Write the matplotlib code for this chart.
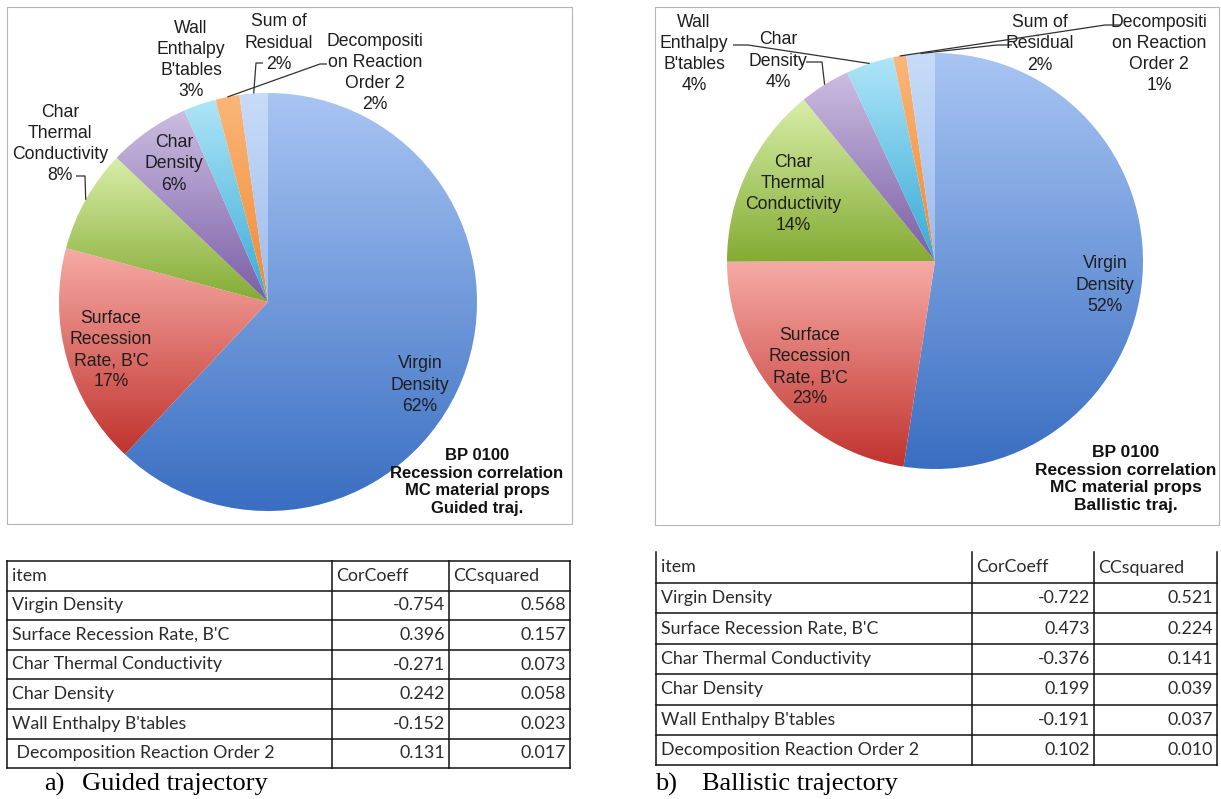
import numpy as np
import matplotlib
matplotlib.use("Agg")
import matplotlib.pyplot as plt
from matplotlib.colors import to_rgb

W, H = 1221, 799

# ---------------- data ----------------
pie_names = ["Virgin\nDensity", "Surface\nRecession\nRate, B'C", "Char\nThermal\nConductivity",
             "Char\nDensity", "Wall\nEnthalpy\nB'tables", "Decompositi\non Reaction\nOrder 2",
             "Sum of\nResidual"]
table_items_a = ["Virgin Density", "Surface Recession Rate, B'C", "Char Thermal Conductivity",
                 "Char Density", "Wall Enthalpy B'tables", " Decomposition Reaction Order 2"]
table_items_b = ["Virgin Density", "Surface Recession Rate, B'C", "Char Thermal Conductivity",
                 "Char Density", "Wall Enthalpy B'tables", "Decomposition Reaction Order 2"]
table_header = ["item", "CorCoeff", "CCsquared"]

guided_cc = [-0.754, 0.396, -0.271, 0.242, -0.152, 0.131]
guided_ccsq = [0.568, 0.157, 0.073, 0.058, 0.023, 0.017]
guided_residual = 0.020

ballistic_cc = [-0.722, 0.473, -0.376, 0.199, -0.191, 0.102]
ballistic_ccsq = [0.521, 0.224, 0.141, 0.039, 0.037, 0.010]
ballistic_residual = 0.022

note_a = "BP 0100\nRecession correlation\nMC material props\nGuided traj."
note_b = "BP 0100\nRecession correlation\nMC material props\nBallistic traj."
caption_a = ("a)", "Guided trajectory")
caption_b = ("b)", "Ballistic trajectory")

# gradient colours per slice (top, bottom)
slice_grads = [("#a8c5f3", "#3a6ec2"),
               ("#f7aba6", "#c1332e"),
               ("#d8eea9", "#84ab33"),
               ("#ccbde1", "#7a5ea6"),
               ("#afe5f8", "#36aad5"),
               ("#fbb67b", "#ef8a31"),
               ("#c8dcf8", "#9cbbec")]

TXT = "#1e1e1e"
LABEL_FONT = dict(family="Liberation Sans", size=12.7, color=TXT)


def py(y):
    return H - y


fig = plt.figure(figsize=(W / 100, H / 100), dpi=100)
ax = fig.add_axes([0, 0, 1, 1])


def draw_pie(values, center, radius, label_pos, leaders):
    cx, cy = center
    wedges, _ = ax.pie(values, center=(cx, py(cy)), radius=radius, startangle=90,
                       counterclock=False, wedgeprops=dict(linewidth=0, edgecolor="none"))
    for w, (ctop, cbot) in zip(wedges, slice_grads):
        ext = w.get_path().get_extents()
        t = np.linspace(0, 1, 256)[:, None]
        arr = np.array(to_rgb(cbot)) * (1 - t) + np.array(to_rgb(ctop)) * t
        im = ax.imshow(arr.reshape(256, 1, 3), extent=(ext.x0, ext.x1, ext.y0, ext.y1),
                       origin="lower", aspect="auto", interpolation="bilinear", zorder=2)
        im.set_clip_path(w)
        w.set_facecolor("none")
    total = sum(values)
    for i, (name, v) in enumerate(zip(pie_names, values)):
        pct = int(np.floor(v / total * 100 + 0.5))
        x, y = label_pos[i]
        ax.text(x, py(y), f"{name}\n{pct}%", ha="center", va="center",
                linespacing=1.33, zorder=5, **LABEL_FONT)
    for i, (start, elbow) in leaders.items():
        w = wedges[i]
        th = np.deg2rad((w.theta1 + w.theta2) / 2)
        ex = cx + radius * np.cos(th)
        ey = py(cy) + radius * np.sin(th)
        ax.plot([start[0], elbow[0], ex], [py(start[1]), py(elbow[1]), ey],
                color="#303030", lw=0.9, zorder=6, solid_capstyle="butt")


def draw_table(cols, y_top, header_h, row_h, items, cc, ccsq, top_line=True):
    ys = [y_top, y_top + header_h] + [y_top + header_h + row_h * (k + 1) for k in range(len(items))]
    for k, y in enumerate(ys):
        if k == 0 and not top_line:
            continue
        ax.plot([cols[0], cols[-1]], [py(y), py(y)], color="#111111", lw=1.1, zorder=4)
    for x in cols:
        ax.plot([x, x], [py(ys[0]), py(ys[-1])], color="#111111", lw=1.1, zorder=4)
    tf = dict(family="Lato", size=12.8, color="#2a2a2a", va="center", zorder=5)
    hy = py((ys[0] + ys[1]) / 2)
    ax.text(cols[0] + 5, hy, table_header[0], ha="left", **tf)
    ax.text(cols[1] + 4, hy, table_header[1], ha="left", **tf)
    ax.text(cols[2] + 4, hy, table_header[2], ha="left", **tf)
    for k, (it, a, b) in enumerate(zip(items, cc, ccsq)):
        yc = py((ys[k + 1] + ys[k + 2]) / 2)
        ax.text(cols[0] + 5, yc, it, ha="left", **tf)
        ax.text(cols[2] - 4, yc, f"{a:.3f}", ha="right", **tf)
        ax.text(cols[3] - 4, yc, f"{b:.3f}", ha="right", **tf)


# chart frames
for (x0, y0, x1, y1) in [(7, 7, 572, 524), (655, 7, 1219, 525)]:
    ax.plot([x0, x1, x1, x0, x0], [py(y0), py(y0), py(y1), py(y1), py(y0)],
            color="#b5b5b5", lw=0.8, zorder=1)

# ---- left pie (guided) ----
draw_pie(guided_ccsq + [guided_residual], center=(268, 302), radius=209,
         label_pos=[(420, 385), (111, 350), (60, 144), (174, 164), (191, 60), (375, 73), (279, 43)],
         leaders={2: ((76, 176), (85, 176)),
                  5: ((327, 64), (320, 64)),
                  6: ((263, 63), (256, 63))})
ax.text(477, py(482), note_a, ha="center", va="center", family="Liberation Sans",
        weight="bold", size=12, color="#111111", linespacing=1.25, zorder=5)

# ---- right pie (ballistic) ----
draw_pie(ballistic_ccsq + [ballistic_residual], center=(935, 261), radius=208,
         label_pos=[(1105, 285), (810, 367), (793, 194), (778, 61), (694, 54), (1159, 54), (1040, 44)],
         leaders={4: ((733, 45), (748, 45)),
                  3: ((806, 62), (822, 62)),
                  5: ((1120, 25), (1105, 25)),
                  6: ((1012, 45), (997, 45))})
ax.text(1126, py(479), note_b, ha="center", va="center", family="Liberation Sans",
        weight="bold", size=12.5, color="#111111", linespacing=1.22, zorder=5)

# ---- tables ----
draw_table([7, 332, 449, 570], 561, 29.5, 29.6, table_items_a, guided_cc, guided_ccsq)
draw_table([656, 972, 1094, 1217], 552, 31, 30.4, table_items_b, ballistic_cc, ballistic_ccsq,
           top_line=False)

# ---- captions ----
cf = dict(family="Liberation Serif", size=19, color="#000000", va="center", ha="left")
ax.text(44, py(784), caption_a[0], **cf)
ax.text(82, py(784), caption_a[1], **cf)
ax.text(655, py(784), caption_b[0], **cf)
ax.text(702, py(784), caption_b[1], **cf)

ax.set_xlim(0, W)
ax.set_ylim(0, H)
ax.set_aspect("auto")
ax.axis("off")
fig.savefig("out.png", dpi=100, facecolor="white")
